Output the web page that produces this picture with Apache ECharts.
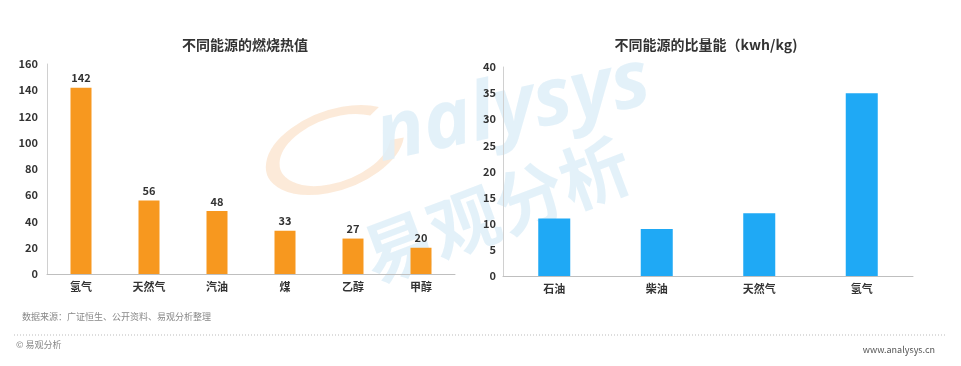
<!DOCTYPE html>
<html>
<head>
<meta charset="utf-8">
<script src="https://cdn.jsdelivr.net/npm/echarts@6/dist/echarts.min.js"></script>
<style>html,body{margin:0;padding:0;background:#fff;}#c{width:961px;height:366px;}</style>
</head>
<body>
<div id="c"></div>
<script>
// Left chart: combustion heat value
const leftTitle = '不同能源的燃烧热值';
const leftCategories = ['氢气', '天然气', '汽油', '煤', '乙醇', '甲醇'];
const leftValues = [142, 56, 48, 33, 27, 20];

// Right chart: specific energy
const rightTitle = '不同能源的比量能（kwh/kg)';
const rightCategories = ['石油', '柴油', '天然气', '氢气'];
const rightValues = [11, 9, 12, 35];

const sourceText = '数据来源：广证恒生、公开资料、易观分析整理';
const copyrightText = '© 易观分析';
const siteText = 'www.analysys.cn';

const FONT = '"Noto Sans CJK SC", "Noto Sans", sans-serif';
const chart = echarts.init(document.getElementById('c'));

const axisLabelStyle = { color: '#333', fontSize: 11, fontWeight: 'bold', fontFamily: FONT };

chart.setOption({
  backgroundColor: '#fff',
  animation: false,
  title: [
    { text: leftTitle, left: 240, top: 33, textAlign: 'center',
      textStyle: { fontSize: 14, fontWeight: 'bold', color: '#333', fontFamily: FONT } },
    { text: rightTitle, left: 701, top: 33, textAlign: 'center',
      textStyle: { fontSize: 14, fontWeight: 'bold', color: '#333', fontFamily: FONT } }
  ],
  graphic: [
    // watermark
    { type: 'arc', z: 0, silent: true, x: 335, y: 150, rotation: 0.35, scaleX: 1.3, scaleY: 0.72,
      shape: { cx: 0, cy: 0, r: 50, startAngle: 0.3, endAngle: 5.6 },
      style: { stroke: '#FBE5D0', lineWidth: 11, fill: null, opacity: 0.8 } },
    { type: 'text', z: 0, silent: true, x: 385, y: 178, rotation: 0.21,
      style: { text: 'nalysys', fontSize: 80, fontWeight: 'bold', fontStyle: 'italic', fontFamily: 'Open Sans, sans-serif',
        fill: '#DEEEF8', textVerticalAlign: 'bottom', opacity: 0.85 } },
    { type: 'text', z: 0, silent: true, x: 378, y: 292, rotation: 0.36,
      style: { text: '易观分析', fontSize: 70, fontWeight: 'bold', fontFamily: FONT,
        fill: '#DEEEF8', textVerticalAlign: 'bottom', opacity: 0.85 } },
    // footer
    { type: 'text', left: 22, top: 312,
      style: { text: sourceText, fontSize: 9, fill: '#888', fontFamily: FONT } },
    { type: 'line', shape: { x1: 14, y1: 335, x2: 946, y2: 335 },
      style: { stroke: '#BBB', lineWidth: 1, lineDash: [1, 2] } },
    { type: 'text', left: 16, top: 340,
      style: { text: copyrightText, fontSize: 9, fill: '#888', fontFamily: FONT } },
    { type: 'text', right: 26, top: 345,
      style: { text: siteText, fontSize: 9, fill: '#555', fontFamily: FONT } }
  ],
  grid: [
    { left: 47, top: 64, width: 408, height: 210 },
    { left: 503, top: 67, width: 410, height: 209 }
  ],
  xAxis: [
    { type: 'category', gridIndex: 0, data: leftCategories,
      axisLine: { lineStyle: { color: '#BFBFBF', width: 1 } }, axisTick: { show: false },
      axisLabel: Object.assign({ margin: 7 }, axisLabelStyle) },
    { type: 'category', gridIndex: 1, data: rightCategories,
      axisLine: { lineStyle: { color: '#BFBFBF', width: 1 } }, axisTick: { show: false },
      axisLabel: Object.assign({ margin: 7 }, axisLabelStyle) }
  ],
  yAxis: [
    { type: 'value', gridIndex: 0, min: 0, max: 160, interval: 20,
      axisLine: { show: true, lineStyle: { color: '#D0D0D0', width: 1 } }, axisTick: { show: false },
      splitLine: { show: false }, axisLabel: Object.assign({ margin: 9 }, axisLabelStyle) },
    { type: 'value', gridIndex: 1, min: 0, max: 40, interval: 5,
      axisLine: { show: true, lineStyle: { color: '#D0D0D0', width: 1 } }, axisTick: { show: false },
      splitLine: { show: false }, axisLabel: Object.assign({ margin: 7 }, axisLabelStyle) }
  ],
  series: [
    { type: 'bar', xAxisIndex: 0, yAxisIndex: 0, data: leftValues, barWidth: 21, z: 3,
      itemStyle: { color: '#F7981F' },
      label: { show: true, position: 'top', distance: 4, color: '#333', fontSize: 11, fontWeight: 'bold', fontFamily: FONT } },
    { type: 'bar', xAxisIndex: 1, yAxisIndex: 1, data: rightValues, barWidth: 32, z: 3,
      itemStyle: { color: '#1FA9F5' } }
  ]
});
</script>
</body>
</html>
